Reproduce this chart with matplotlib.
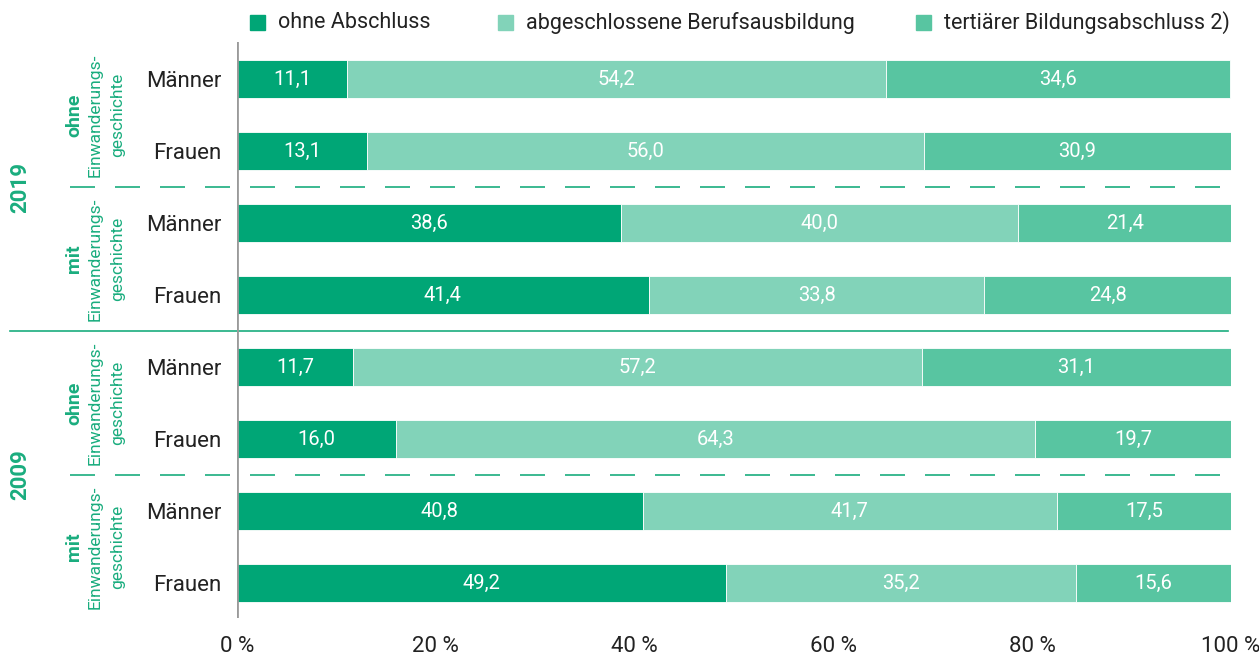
import numpy as np
import matplotlib.pyplot as plt
from matplotlib.patches import Rectangle

plt.rcParams['font.family'] = ['Roboto', 'DejaVu Sans']

# rows from top to bottom
rows = ["Männer", "Frauen", "Männer", "Frauen", "Männer", "Frauen", "Männer", "Frauen"]
ohne_abschluss = [11.1, 13.1, 38.6, 41.4, 11.7, 16.0, 40.8, 49.2]
berufsausbildung = [54.2, 56.0, 40.0, 33.8, 57.2, 64.3, 41.7, 35.2]
tertiaer = [34.6, 30.9, 21.4, 24.8, 31.1, 19.7, 17.5, 15.6]
series_names = ["ohne Abschluss", "abgeschlossene Berufsausbildung", "tertiärer Bildungsabschluss 2)"]
colors = ["#00a676", "#82d3b9", "#58c5a1"]
years = ["2019", "2009"]
groups = ["ohne", "mit", "ohne", "mit"]
xticks = [0, 20, 40, 60, 80, 100]

green = "#1aad7e"
textcol = "#222222"

fig = plt.figure(figsize=(12.59, 6.58), dpi=100)
ax = fig.add_axes([237/1259, 1 - 618/658, 994/1259, 576/658])

y = np.arange(len(rows))
left = np.zeros(len(rows))
for vals, col in zip((ohne_abschluss, berufsausbildung, tertiaer), colors):
    vals = np.array(vals)
    ax.barh(y, vals, left=left, height=0.53, color=col, edgecolor='white', linewidth=0.6)
    for yi, l, v in zip(y, left, vals):
        ax.text(l + v / 2, yi, ("%.1f" % v).replace(".", ","), ha='center', va='center',
                color='white', fontsize=14.5)
    left += vals

ax.set_xlim(0, 100)
ax.set_ylim(7.486, -0.514)
ax.set_yticks(y)
ax.set_yticklabels(rows, fontsize=16, color=textcol)
ax.set_xticks(xticks)
ax.set_xticklabels(["%d %%" % t for t in xticks], fontsize=16, color=textcol)
ax.tick_params(length=0)
ax.tick_params(axis='y', pad=11)
ax.tick_params(axis='x', pad=13)
for s in ax.spines.values():
    s.set_visible(False)
ax.axvline(0, color='#9a9a9a', lw=2, zorder=5)

# separators
ax.axhline(1.5, xmin=-0.168, xmax=1.0, color=green, lw=1.2, ls=(0, (15, 12)), clip_on=False)
ax.axhline(5.5, xmin=-0.168, xmax=1.0, color=green, lw=1.2, ls=(0, (15, 12)), clip_on=False)
ax.axhline(3.5, xmin=-0.228, xmax=0.997, color=green, lw=1.2, clip_on=False)

# group labels
for i, g in enumerate(groups):
    yc = 2 * i + 0.5
    ax.text(-0.164, yc, g, transform=ax.get_yaxis_transform(), rotation=90, ha='center', va='center',
            color=green, fontsize=14, fontweight='bold')
    ax.text(-0.143, yc, "Einwanderungs-", transform=ax.get_yaxis_transform(), rotation=90,
            ha='center', va='center', color=green, fontsize=12.5)
    ax.text(-0.12, yc, "geschichte", transform=ax.get_yaxis_transform(), rotation=90,
            ha='center', va='center', color=green, fontsize=12.5)
for i, yr in enumerate(years):
    ax.text(-0.218, 4 * i + 1.5, yr, transform=ax.get_yaxis_transform(), rotation=90,
            ha='center', va='center', color=green, fontsize=16, fontweight='bold')

# legend
leg_x = [250, 498, 916]
for lx, name, col in zip(leg_x, series_names, colors):
    fig.patches.append(Rectangle((lx / 1259, 1 - 30 / 658), 15 / 1259, 15 / 658,
                                 transform=fig.transFigure, color=col))
    fig.text((lx + 28) / 1259, 1 - 23 / 658, name, ha='left', va='center', fontsize=15.5,
             color=textcol)

fig.savefig("out.png", dpi=100)
